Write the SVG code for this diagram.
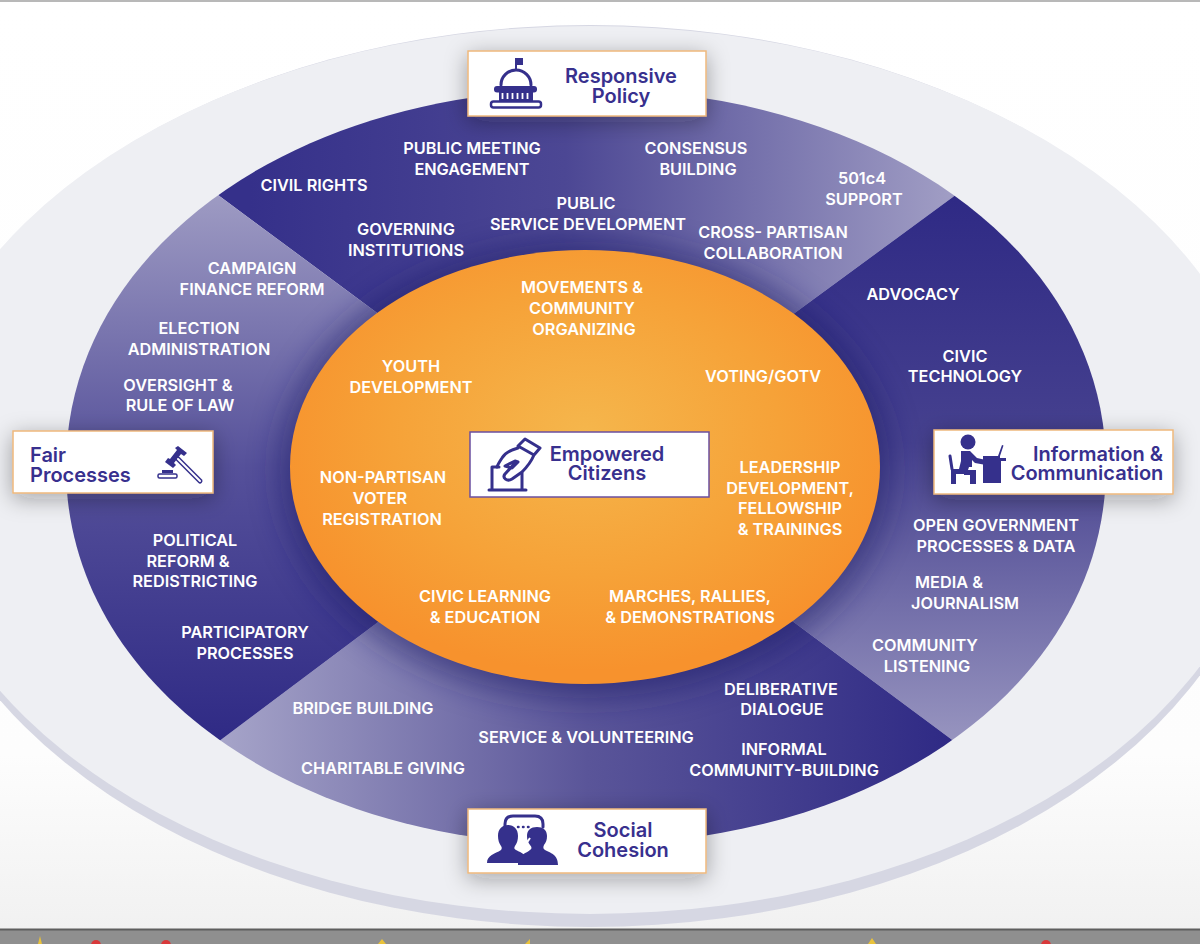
<svg xmlns="http://www.w3.org/2000/svg" width="1200" height="944" viewBox="0 0 1200 944">
<style>
text{font-family:"Inter","Liberation Sans",sans-serif}
.w text,.w{fill:#fff;font-size:16.3px;font-weight:600;text-anchor:middle}
.h{fill:#38308e;font-size:20px;font-weight:600;text-anchor:middle}
.box{fill:#fff;stroke:#eeb87c;stroke-width:1.5;filter:url(#sh)}
.ic{fill:#35308c}
.ol{fill:none;stroke:#35308c;stroke-width:3;stroke-linecap:round;stroke-linejoin:round}
</style>
<defs>
<linearGradient id="bg" x1="0" y1="0" x2="0" y2="1"><stop offset="0" stop-color="#fff"/><stop offset=".8" stop-color="#fdfdfd"/><stop offset="1" stop-color="#f0f0f0"/></linearGradient>
<linearGradient id="gt" gradientUnits="userSpaceOnUse" x1="250" y1="180" x2="950" y2="190"><stop offset="0" stop-color="#35308a"/><stop offset=".45" stop-color="#4c4794"/><stop offset="1" stop-color="#a09dc4"/></linearGradient>
<linearGradient id="gr" gradientUnits="userSpaceOnUse" x1="960" y1="200" x2="960" y2="740"><stop offset="0" stop-color="#2f2a85"/><stop offset=".45" stop-color="#46418f"/><stop offset="1" stop-color="#9794bf"/></linearGradient>
<linearGradient id="gb" gradientUnits="userSpaceOnUse" x1="225" y1="745" x2="950" y2="745"><stop offset="0" stop-color="#a5a3c8"/><stop offset=".5" stop-color="#5a5599"/><stop offset="1" stop-color="#2f2a85"/></linearGradient>
<linearGradient id="gl" gradientUnits="userSpaceOnUse" x1="210" y1="195" x2="210" y2="740"><stop offset="0" stop-color="#9e9bc3"/><stop offset=".5" stop-color="#55509a"/><stop offset="1" stop-color="#2f2a85"/></linearGradient>
<radialGradient id="go" cx=".5" cy=".42" r=".55"><stop offset="0" stop-color="#f5b64c"/><stop offset=".6" stop-color="#f6a238"/><stop offset="1" stop-color="#f7922d"/></radialGradient>
<clipPath id="cp"><path d="M66 467C66 252 290 89 586 89S1106 252 1106 467S882 845 586 845S66 682 66 467Z"/></clipPath>
<filter id="sh" x="-20%" y="-60%" width="140%" height="220%"><feDropShadow dx="0" dy="5" stdDeviation="11" flood-color="#222" flood-opacity=".34"/></filter>
<filter id="bl" x="-20%" y="-20%" width="140%" height="140%"><feGaussianBlur stdDeviation="16"/></filter>
</defs>
<rect width="1200" height="944" fill="url(#bg)"/>
<rect width="1200" height="2" fill="#b8b8b8"/>
<g id="backdrop">
<ellipse cx="590" cy="476" rx="680" ry="451" fill="#d6d7e3"/>
<ellipse cx="590" cy="470" rx="680" ry="444" fill="#eeeff3"/>
</g>
<g id="sectors" clip-path="url(#cp)">
<path d="M585 467L218 195 L218 40 L957 40 L957 194Z" fill="url(#gt)"/>
<path d="M585 467L957 194 L1150 194 L1150 742 L955 742Z" fill="url(#gr)"/>
<path d="M585 467L955 742 L955 900 L218 900 L218 742Z" fill="url(#gb)"/>
<path d="M585 467L218 742 L30 742 L30 195 L218 195Z" fill="url(#gl)"/>
<ellipse cx="585" cy="470" rx="305" ry="228" fill="#1e1a66" opacity=".55" filter="url(#bl)"/>
</g>
<ellipse id="core" cx="585" cy="467" rx="295" ry="217" fill="url(#go)"/>
<g id="labels" class="w">
<text x="472" y="154">PUBLIC MEETING</text><text x="472" y="175">ENGAGEMENT</text>
<text x="696" y="154">CONSENSUS</text><text x="698" y="175">BUILDING</text>
<text x="314" y="191">CIVIL RIGHTS</text>
<text x="862" y="184">501c4</text><text x="864" y="205">SUPPORT</text>
<text x="406" y="235">GOVERNING</text><text x="406" y="256">INSTITUTIONS</text>
<text x="586" y="209">PUBLIC</text><text x="588" y="230">SERVICE DEVELOPMENT</text>
<text x="773" y="238">CROSS- PARTISAN</text><text x="773" y="259">COLLABORATION</text>
<text x="252" y="274">CAMPAIGN</text><text x="252" y="295">FINANCE REFORM</text>
<text x="199" y="334">ELECTION</text><text x="199" y="355">ADMINISTRATION</text>
<text x="178" y="391">OVERSIGHT &amp;</text><text x="180" y="411">RULE OF LAW</text>
<text x="195" y="546">POLITICAL</text><text x="188" y="567">REFORM &amp;</text><text x="195" y="587">REDISTRICTING</text>
<text x="245" y="638">PARTICIPATORY</text><text x="245" y="659">PROCESSES</text>
<text x="913" y="300">ADVOCACY</text>
<text x="965" y="362">CIVIC</text><text x="965" y="382">TECHNOLOGY</text>
<text x="996" y="531">OPEN GOVERNMENT</text><text x="996" y="552">PROCESSES &amp; DATA</text>
<text x="949" y="588">MEDIA &amp;</text><text x="965" y="609">JOURNALISM</text>
<text x="925" y="651">COMMUNITY</text><text x="927" y="672">LISTENING</text>
<text x="781" y="695">DELIBERATIVE</text><text x="782" y="715">DIALOGUE</text>
<text x="784" y="755">INFORMAL</text><text x="784" y="776">COMMUNITY-BUILDING</text>
<text x="586" y="743">SERVICE &amp; VOLUNTEERING</text>
<text x="363" y="714">BRIDGE BUILDING</text>
<text x="383" y="774">CHARITABLE GIVING</text>
<text x="582" y="293">MOVEMENTS &amp;</text><text x="582" y="314">COMMUNITY</text><text x="584" y="335">ORGANIZING</text>
<text x="411" y="372">YOUTH</text><text x="411" y="393">DEVELOPMENT</text>
<text x="763" y="382">VOTING/GOTV</text>
<text x="383" y="483">NON-PARTISAN</text><text x="380" y="504">VOTER</text><text x="382" y="525">REGISTRATION</text>
<text x="790" y="473">LEADERSHIP</text><text x="790" y="494">DEVELOPMENT,</text><text x="790" y="514">FELLOWSHIP</text><text x="790" y="535">&amp; TRAININGS</text>
<text x="485" y="602">CIVIC LEARNING</text><text x="485" y="623">&amp; EDUCATION</text>
<text x="690" y="602">MARCHES, RALLIES,</text><text x="690" y="623">&amp; DEMONSTRATIONS</text>
</g>
<g id="responsive-policy">
<rect class="box" x="468" y="51" width="238" height="65"/>
<path class="ic" d="M515 58h8v7h-6v6h-2z"/>
<path class="ol" d="M501 85a15 15 0 0 1 30 0"/>
<rect class="ic" x="494" y="86" width="43" height="6.500" rx="3"/>
<path class="ic" d="M499 92h34v9h-34z"/>
<path d="M502.500 93v6M507.500 93v6M512.500 93v6M517.500 93v6M522.500 93v6M527.500 93v6" stroke="#fff" stroke-width="1.800"/>
<rect x="491" y="101.500" width="50" height="6" rx="2.500" fill="#fff" stroke="#35308c" stroke-width="2.500"/>
<text class="h" x="621" y="83">Responsive</text><text class="h" x="621" y="103">Policy</text>
</g>
<g id="fair-processes">
<rect class="box" x="13" y="431" width="200" height="62"/>
<text class="h" x="30" y="462" style="text-anchor:start">Fair</text><text class="h" x="30" y="482" style="text-anchor:start">Processes</text>
<path class="ic" d="M178 446l9 7-3 3-3-2-7 9 2 2-3 3-8-6 3-4 2 1 7-9-2-2z"/>
<path d="M178 459l22 22" stroke="#35308c" stroke-width="5" stroke-linecap="round"/>
<path d="M178 459l22 22" stroke="#fff" stroke-width="2" stroke-linecap="round"/>
<path class="ic" d="M162 470h11v3h-11z"/><rect x="158" y="474" width="19" height="4" rx="1.500" fill="#fff" stroke="#35308c" stroke-width="1.500"/>
</g>
<g id="information-communication">
<rect class="box" x="934" y="430" width="239" height="64"/>
<circle class="ic" cx="968" cy="442" r="7.500"/>
<path class="ic" d="M961 451h9l7 7 9 2v5l-11-2-3-3v7h-3l-1 3h8v14h-6v-9h-6v-1h-8v10h-5v-15h8l2-8z"/>
<path class="ol" d="M950 456l2 13" stroke-width="2.500"/>
<path class="ic" d="M983 456h15l4-11 1.500.5-3.500 10.500v2h6v3h-5v22h-18z"/>
<text class="h" x="1098" y="461">Information &amp;</text><text class="h" x="1087" y="480">Communication</text>
</g>
<g id="social-cohesion">
<rect class="box" x="468" y="809" width="238" height="64"/>
<path class="ol" d="M505 828v-4q0-8 8-8h22q8 0 8 8v3" stroke-width="2.200"/>
<path class="ic" d="M487 863c0-8 8-9 14-13 1-1 1-3 0-4-2-3-3-6-3-10 0-7 4-11 10-11s10 4 10 11c0 4-1 7-3 10-1 2-1 3 1 4 4 2 7 3 10 7v6z"/>
<path class="ic" d="M518 865v-6c3-5 9-6 12-9 2-1 2-3 0-5-2-3-3-5-3-9 0-6 4-9 10-9s10 3 10 9c0 4-1 6-3 9-1 2-1 4 1 5 5 3 13 4 13 15z"/>
<path d="M520 843q5 3 8-2l2-3" fill="none" stroke="#fff" stroke-width="2"/>
<path d="M518 827h.5M523 827h.5M528 827h.5" stroke="#35308c" stroke-width="2.500" stroke-linecap="round"/>
<text class="h" x="623" y="837">Social</text><text class="h" x="623" y="857">Cohesion</text>
</g>
<g id="empowered-citizens">
<rect x="470" y="432" width="239" height="65" fill="#fff" stroke="#6b4fa0" stroke-width="1.500"/>
<path class="ol" d="M492 467v22M522 473v16M489 490h37M492 467h7" stroke-width="2.200"/>
<path class="ol" d="M525 439l15 9-6 7-16-9zM518 448c-8 2-13 5-16 10-2 3-4 6-5 9M534 455c-3 7-7 12-12 17l-10 7c-5 3-10-1-7-5l10-11M505 466l10-5 3 1-6 6z" stroke-width="2.200"/>
<text class="h" x="607" y="461">Empowered</text><text class="h" x="607" y="480">Citizens</text>
</g>
<g id="taskbar">
<rect y="930" width="1200" height="14" fill="#8f8f8f"/>
<rect y="928.500" width="1200" height="2" fill="#5e5e5e"/>
<circle cx="96" cy="945" r="5" fill="#d8393a"/><circle cx="166" cy="945" r="5" fill="#d8393a"/><circle cx="1046" cy="945" r="5" fill="#d8393a"/>
<path d="M38 944l2-8 2 8zM525 944l5-5v5zM378 944l4-5 4 5zM868 944l4-6 4 6z" fill="#e9c23a"/>
</g>
</svg>
